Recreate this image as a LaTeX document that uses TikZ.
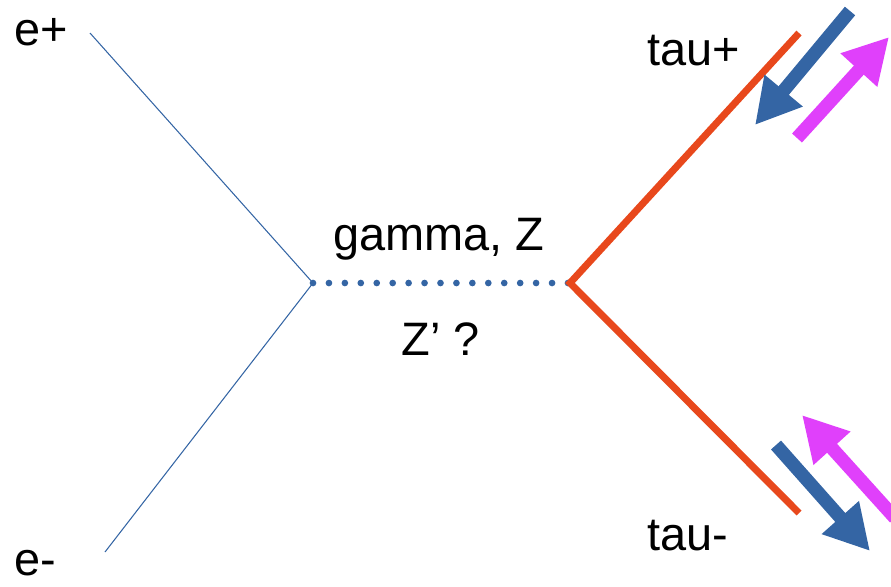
\documentclass[tikz,border=0pt]{standalone}
\usepackage{fontspec}
\setmainfont{Liberation Sans}
\usepackage{xcolor}
\usepackage{tikz}
\usetikzlibrary{arrows.meta}

\definecolor{fermblue}{HTML}{3465A4}
\definecolor{taured}{HTML}{E8481C}
\definecolor{spinpink}{HTML}{E040FB}

\begin{document}
\begin{tikzpicture}[
    x=0.02cm, y=-0.02cm,
    font=\fontsize{26.7pt}{32pt}\selectfont,
    label_txt/.style={anchor=base west, inner sep=0pt},
    electron/.style={draw=fermblue, line width=0.6pt},
    boson/.style={draw=fermblue, line width=3.8pt, line cap=round, dash pattern=on 0pt off 9.07pt},
    tau_line/.style={draw=taured, line width=4pt},
    spin_arrow/.style={-{Triangle[width=26.5pt, length=25.5pt]}, line width=7.6pt},
    mom_arrow/.style={spin_arrow, draw=fermblue, fill=fermblue},
    hel_arrow/.style={spin_arrow, draw=spinpink, fill=spinpink}
]
\useasboundingbox (0,0) rectangle (891,586);

% vertices and external legs
\coordinate (vleft)  at (313,283);
\coordinate (vright) at (570,283);
\coordinate (eplus)  at (90,33);
\coordinate (eminus) at (105,552);
\coordinate (tplus)  at (799,33);
\coordinate (tminus) at (799,513);

% spin / momentum arrows
\coordinate (mtop_s) at (850,11);
\coordinate (mtop_e) at (755,125);
\coordinate (htop_s) at (797,138);
\coordinate (htop_e) at (889,37);
\coordinate (mbot_s) at (776,445);
\coordinate (mbot_e) at (870,551);
\coordinate (hbot_s) at (895,518);
\coordinate (hbot_e) at (802,415);

\node (lep)  [label_txt] at (14,45)   {e+};
\node (lem)  [label_txt] at (14,575)  {e-};
\node (ltp)  [label_txt] at (647,65)  {tau+};
\node (ltm)  [label_txt] at (647,550) {tau-};
\node (lgz)  [label_txt] at (333,250) {gamma, Z};
\node (lzp)  [label_txt] at (401,355) {Z’ ?};

\draw [electron] (eplus) -- (vleft) -- (eminus);
\draw [boson] (vleft) -- (vright);
\draw [tau_line] (tplus) -- (vright) -- (tminus);

\draw [mom_arrow] (mtop_s) -- (mtop_e);
\draw [hel_arrow] (htop_s) -- (htop_e);
\draw [mom_arrow] (mbot_s) -- (mbot_e);
\draw [hel_arrow] (hbot_s) -- (hbot_e);

\end{tikzpicture}
\end{document}
